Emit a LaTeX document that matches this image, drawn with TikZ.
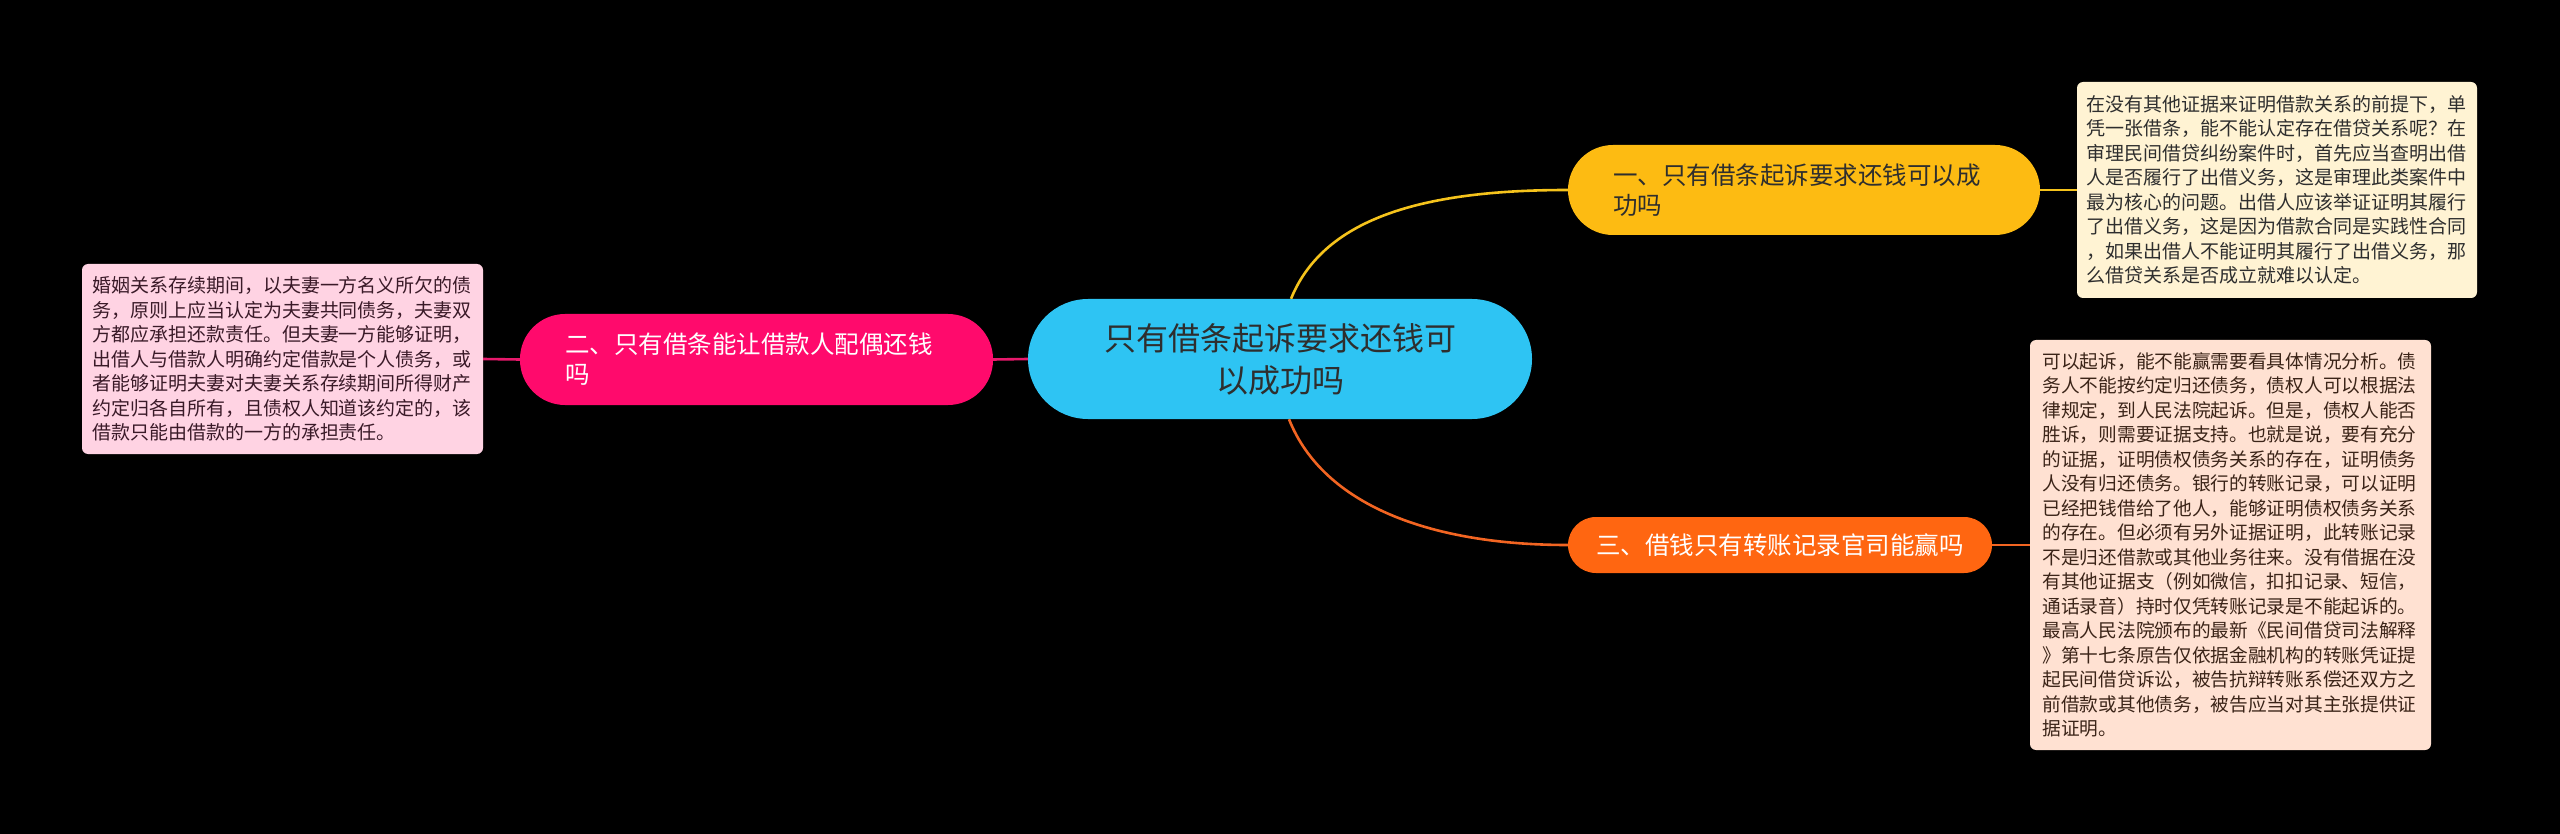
\documentclass[tikz,border=0pt]{standalone}
\usepackage{fontspec}
\setmainfont{Noto Sans CJK SC}
\usetikzlibrary{calc}
\definecolor{cyanc}{HTML}{2EC4F3}
\definecolor{yelc}{HTML}{FDBB12}
\definecolor{yell}{HTML}{F5C31C}
\definecolor{pinkc}{HTML}{FF0A6C}
\definecolor{pinkl}{HTML}{E8196C}
\definecolor{orac}{HTML}{FF6611}
\definecolor{oral}{HTML}{F26522}
\definecolor{noteA}{HTML}{FFF3D3}
\definecolor{noteB}{HTML}{FFE1D2}
\definecolor{noteC}{HTML}{FFD3E3}
\definecolor{txtd}{HTML}{2E2E2E}
\definecolor{txtb}{HTML}{3B2418}
\definecolor{txtc}{HTML}{3A1A28}
\tikzset{
  pill/.style={inner sep=0pt, draw=none},
  centerbox/.style={pill, fill=cyanc, rounded corners=60pt, minimum width=504pt, minimum height=120pt, align=center, text=txtd, font=\fontsize{32}{42}\selectfont},
  branchbox/.style={pill, font=\fontsize{24.5}{30}\selectfont},
  notebox/.style={inner sep=0pt, rounded corners=6pt, align=left, font=\fontsize{19}{24.5}\selectfont},
  conn/.style={line width=2.6pt}
}
\begin{document}
\begin{tikzpicture}[x=1pt,y=-1pt]
\fill[black] (0,0) rectangle (2560,834);
\useasboundingbox (0,0) rectangle (2560,834);

\node[centerbox] (c) at (1280,359) {只有借条起诉要求还钱可\\以成功吗};

\node[branchbox, fill=yelc, rounded corners=45pt, minimum width=472pt, minimum height=90pt, text width=382pt, align=left, text=txtd] (b1) at (1804,190) {一、只有借条起诉要求还钱可以成\\功吗};

\node[branchbox, fill=pinkc, rounded corners=45pt, minimum width=473pt, minimum height=91pt, text width=383pt, align=left, text=white] (b2) at (756.5,359.5) {二、只有借条能让借款人配偶还钱\\吗};

\node[branchbox, fill=orac, rounded corners=28pt, minimum width=424pt, minimum height=56pt, align=center, text=white] (b3) at (1780,545) {三、借钱只有转账记录官司能赢吗};

\node[notebox, fill=noteA, minimum width=400pt, minimum height=216pt, text width=382pt, text=txtd] (n1) at (2277,190) {在没有其他证据来证明借款关系的前提下，单\\凭一张借条，能不能认定存在借贷关系呢？在\\审理民间借贷纠纷案件时，首先应当查明出借\\人是否履行了出借义务，这是审理此类案件中\\最为核心的问题。出借人应该举证证明其履行\\了出借义务，这是因为借款合同是实践性合同\\，如果出借人不能证明其履行了出借义务，那\\么借贷关系是否成立就难以认定。};

\node[notebox, fill=noteB, minimum width=401pt, minimum height=410pt, text width=376pt, text=txtb, font=\fontsize{18.7}{24.5}\selectfont] (n2) at (2230.5,545) {可以起诉，能不能赢需要看具体情况分析。债\\务人不能按约定归还债务，债权人可以根据法\\律规定，到人民法院起诉。但是，债权人能否\\胜诉，则需要证据支持。也就是说，要有充分\\的证据，证明债权债务关系的存在，证明债务\\人没有归还债务。银行的转账记录，可以证明\\已经把钱借给了他人，能够证明债权债务关系\\的存在。但必须有另外证据证明，此转账记录\\不是归还借款或其他业务往来。没有借据在没\\有其他证据支（例如微信，扣扣记录、短信，\\通话录音）持时仅凭转账记录是不能起诉的。\\最高人民法院颁布的最新《民间借贷司法解释\\》第十七条原告仅依据金融机构的转账凭证提\\起民间借贷诉讼，被告抗辩转账系偿还双方之\\前借款或其他债务，被告应当对其主张提供证\\据证明。};

\node[notebox, fill=noteC, minimum width=401pt, minimum height=190pt, text width=381pt, text=txtc] (n3) at (282.5,359) {婚姻关系存续期间，以夫妻一方名义所欠的债\\务，原则上应当认定为夫妻共同债务，夫妻双\\方都应承担还款责任。但夫妻一方能够证明，\\出借人与借款人明确约定借款是个人债务，或\\者能够证明夫妻对夫妻关系存续期间所得财产\\约定归各自所有，且债权人知道该约定的，该\\借款只能由借款的一方的承担责任。};

\draw[conn, yell] ([xshift=11pt]c.north) .. controls (1325,215) and (1430,190) .. (b1.west);
\draw[conn, oral] ([xshift=9pt]c.south) .. controls (1323,505) and (1430,545) .. (b3.west);
\draw[conn, pinkl] (c.west) -- (b2.east);
\draw[conn, pinkl] (b2.west) -- (n3.east);
\draw[conn, yell] (b1.east) -- (n1.west);
\draw[conn, oral] (b3.east) -- (n2.west);
\end{tikzpicture}
\end{document}
